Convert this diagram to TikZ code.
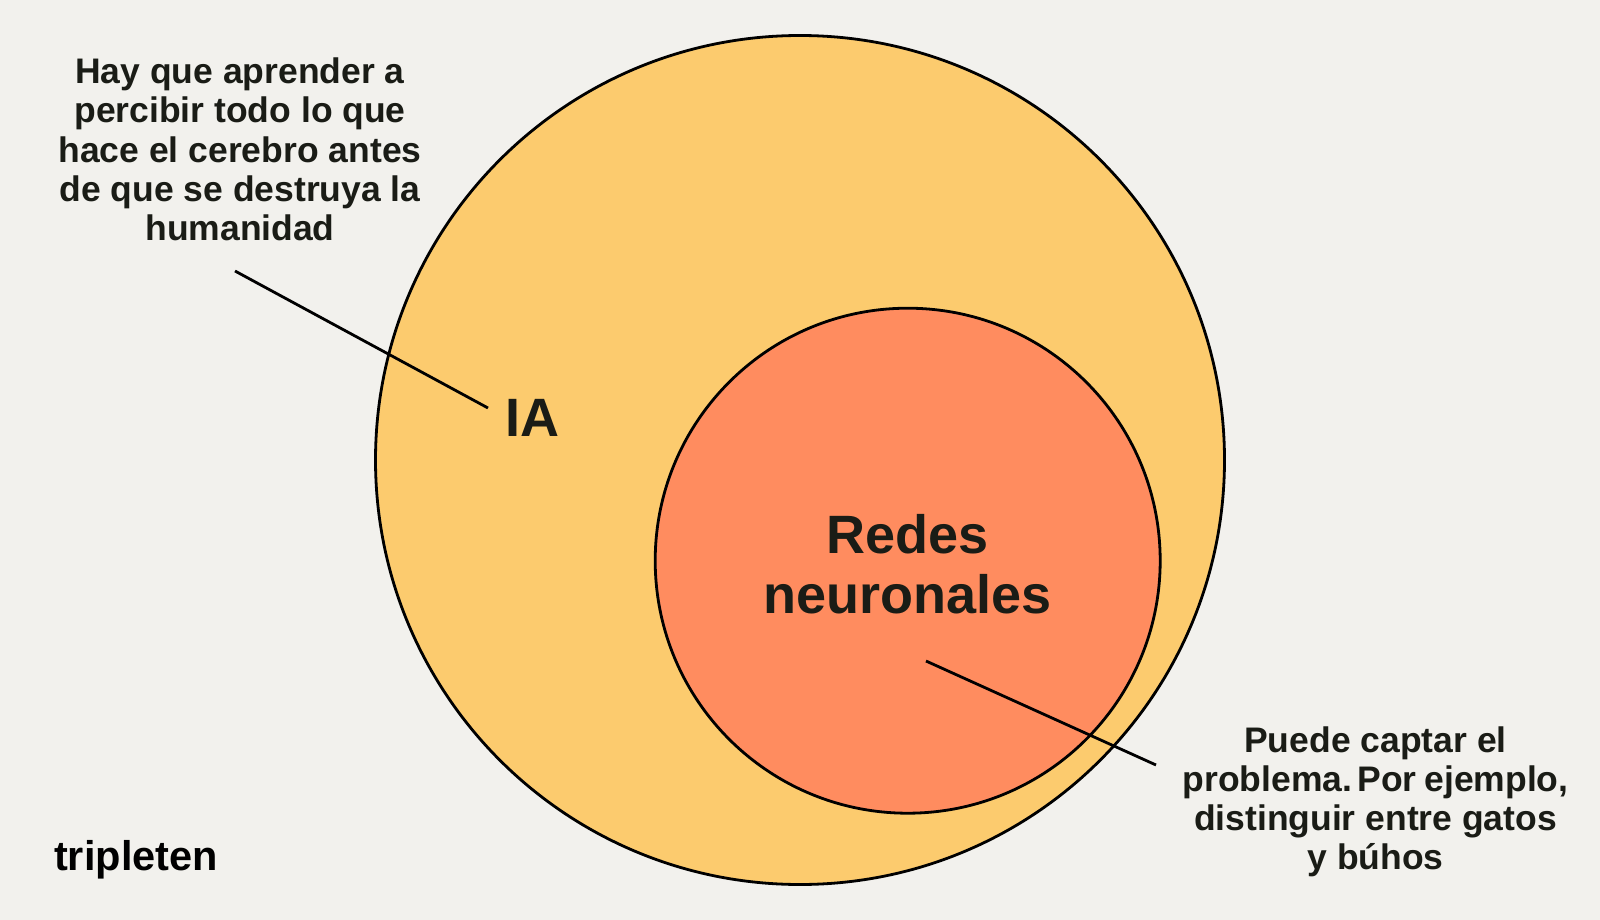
\documentclass[tikz,border=0pt]{standalone}
\usepackage{fontspec}
\setmainfont{Liberation Sans}[BoldFont={Liberation Sans Bold}]
\usepackage{xcolor}
\usetikzlibrary{positioning}
\definecolor{paper}{HTML}{F2F1ED}
\definecolor{outerfill}{HTML}{FCCB6E}
\definecolor{innerfill}{HTML}{FF8C5F}
\definecolor{ink}{HTML}{1A1C16}

\begin{document}
\begin{tikzpicture}[
  x=1pt, y=-1pt,
  zone/.style={circle, draw=black, line width=2.8pt, inner sep=0pt},
  note/.style={align=center, text=ink, inner sep=0pt, font=\fontsize{35.5}{39.2}\selectfont\bfseries},
  title/.style={align=center, text=ink, inner sep=0pt, font=\fontsize{54}{59.5}\selectfont\bfseries},
  leader/.style={draw=black, line width=2.8pt}
]
  \path[use as bounding box, fill=paper] (0,0) rectangle (1600,920);

  \node[zone, fill=outerfill, minimum size=849pt] (ai) at (800,460) {};
  \node[zone, fill=innerfill, minimum size=505pt] (nn) at (907.7,560.7) {};

  \node[title] (ailabel) at (532,418) {IA};
  \node[title] (nnlabel) at (907.7,564) {Redes\\neuronales};

  \node[note] (ainote) at (240,149.5) {Hay que aprender a\\percibir todo lo que\\hace el cerebro antes\\de que se destruya la\\humanidad};
  \node[note] (nnnote) at (1375.5,802) {Puede captar el\\problema.\hspace{-8pt} Por\hspace{-2pt} ejemplo,\\distinguir entre gatos\\y búhos};

  \node[inner sep=0pt, text=black, font=\fontsize{41.5}{41.5}\selectfont\bfseries] (logo) at (136,860) {tripleten};

  % Leaders
  \coordinate (aifrom) at (235,271);
  \coordinate (aito) at (488,408);
  \coordinate (nnfrom) at (926,661);
  \coordinate (nnto) at (1156,765);
  \draw[leader] (aifrom) -- (aito);
  \draw[leader] (nnfrom) -- (nnto);
\end{tikzpicture}
\end{document}
